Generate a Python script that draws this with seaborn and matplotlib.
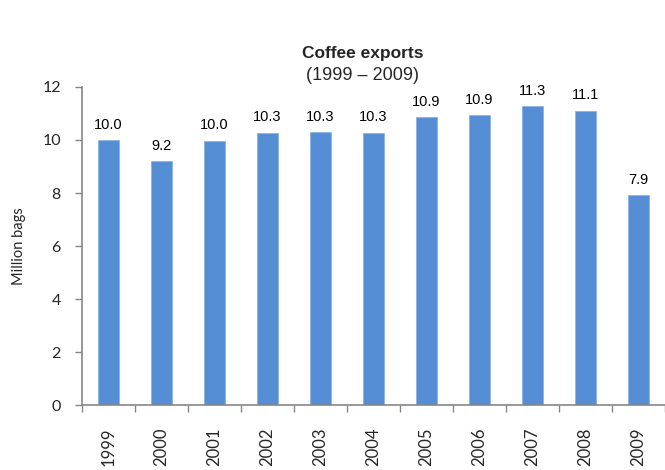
import matplotlib
matplotlib.use("Agg")
import matplotlib.pyplot as plt
import seaborn as sns
import pandas as pd
import numpy as np

years = ["1999", "2000", "2001", "2002", "2003", "2004", "2005", "2006", "2007", "2008", "2009"]
exports = [10.0, 9.2, 9.97, 10.27, 10.3, 10.27, 10.87, 10.94, 11.27, 11.1, 7.93]
yticks = [0, 2, 4, 6, 8, 10, 12]

df = pd.DataFrame({"year": years, "exports": exports})

sns.set_theme(style="white")
plt.rcParams["font.family"] = ["Liberation Sans", "DejaVu Sans"]

fig = plt.figure(figsize=(6.65, 4.7), dpi=100)
ax = fig.add_axes([0.123, 0.138, 0.877, 0.677])

sns.barplot(data=df, x="year", y="exports", color="#558ED5", saturation=1,
            width=0.39, edgecolor="#8DB3E2", linewidth=0.6, ax=ax)

for c in ax.containers:
    ax.bar_label(c, fmt="%.1f", padding=6, fontsize=10.5, color="#000000")

ax.set_ylim(0, 12)
ax.set_xlim(-0.5, len(years) - 0.5)
ax.set_yticks(yticks)
ax.set_yticklabels([str(v) for v in yticks], fontsize=11.5, family=["Lato", "DejaVu Sans"])
ax.set_xticks(range(len(years)))
ax.set_xticklabels(years, rotation=90, fontsize=12, family=["Lato", "DejaVu Sans"])
ax.tick_params(axis="x", which="major", length=0, pad=16)
ax.set_xticks(np.arange(-0.5, len(years)), minor=True)
ax.tick_params(axis="x", which="minor", length=5, width=1, color="#868686", direction="out", bottom=True)
ax.tick_params(axis="y", length=5, width=1, color="#868686", direction="out", left=True, pad=10)

ax.set_xlabel("")
ax.set_ylabel("Million bags", fontsize=10.5, family=["Lato", "DejaVu Sans"], labelpad=12)

for s in ["top", "right"]:
    ax.spines[s].set_visible(False)
for s in ["left", "bottom"]:
    ax.spines[s].set_color("#868686")
    ax.spines[s].set_linewidth(1.2)

fig.text(0.545, 0.887, "Coffee exports", ha="center", va="center", fontsize=12.5, fontweight="bold")
fig.text(0.545, 0.84, "(1999 – 2009)", ha="center", va="center", fontsize=13)

fig.savefig("out.png", dpi=100)
